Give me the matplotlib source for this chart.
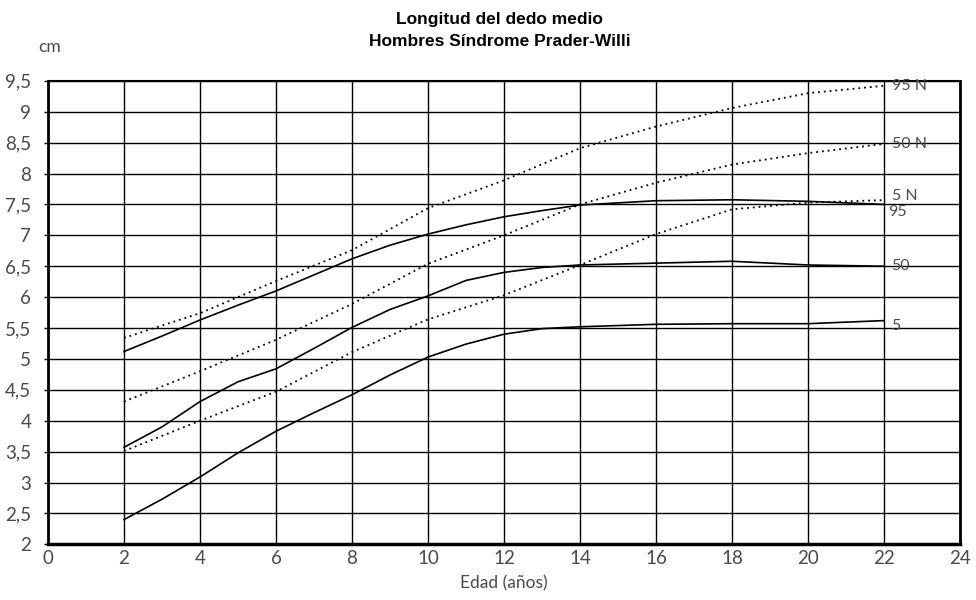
import matplotlib
matplotlib.use("Agg")
import matplotlib.pyplot as plt
from matplotlib.ticker import FuncFormatter

# Edad (años)
edad = [2, 3, 4, 5, 6, 7, 8, 9, 10, 11, 12, 13, 14, 16, 18, 20, 22]

# Síndrome Prader-Willi, percentiles (cm)
pw_95 = [5.12, 5.37, 5.63, 5.87, 6.10, 6.36, 6.62, 6.84, 7.02, 7.17, 7.30, 7.40, 7.49, 7.56, 7.575, 7.55, 7.50]
pw_50 = [3.57, 3.90, 4.31, 4.63, 4.84, 5.17, 5.51, 5.80, 6.02, 6.27, 6.40, 6.48, 6.52, 6.55, 6.58, 6.52, 6.50]
pw_5 = [2.40, 2.73, 3.09, 3.48, 3.83, 4.13, 4.42, 4.74, 5.03, 5.24, 5.40, 5.49, 5.52, 5.56, 5.57, 5.57, 5.62]

# Población normal, percentiles (cm)
edad_n = [2, 4, 6, 8, 10, 12, 14, 16, 18, 20, 22]
n_95 = [5.34, 5.74, 6.26, 6.76, 7.44, 7.89, 8.41, 8.76, 9.06, 9.30, 9.42]
n_50 = [4.31, 4.80, 5.31, 5.89, 6.54, 7.00, 7.50, 7.85, 8.145, 8.33, 8.48]
n_5 = [3.51, 4.00, 4.47, 5.11, 5.64, 6.03, 6.52, 7.02, 7.42, 7.53, 7.57]

x_ticks = list(range(0, 25, 2))
y_ticks = [2 + 0.5 * i for i in range(16)]

txt_color = "#4a4a4a"
fig = plt.figure(figsize=(9.76, 6.0), dpi=100)
ax = fig.add_axes([0.0492, 0.0928, 0.9344, 0.7725])

ax.set_xlim(0, 24)
ax.set_ylim(2, 9.5)
ax.set_xticks(x_ticks)
ax.set_yticks(y_ticks)
ax.grid(True, color="black", linewidth=1.0)
ax.set_axisbelow(True)

for s in ax.spines.values():
    s.set_color("black")
ax.spines["left"].set_linewidth(2.0)
ax.spines["bottom"].set_linewidth(2.5)
ax.spines["right"].set_linewidth(2.0)
ax.spines["top"].set_linewidth(1.5)

fmt = FuncFormatter(lambda v, p: ("%g" % v).replace(".", ","))
ax.yaxis.set_major_formatter(fmt)
ax.tick_params(axis="y", length=3, width=1, color="black", labelsize=13.5,
               labelcolor=txt_color, pad=9)
ax.tick_params(axis="x", length=0, width=1, color="black", labelsize=13.5,
               labelcolor=txt_color, pad=4)
for t in ax.get_xticklabels() + ax.get_yticklabels():
    t.set_fontfamily("Lato")

dotted = (0, (1.0, 2.2))
ax.plot(edad_n, n_95, color="black", lw=1.3, linestyle=dotted)
ax.plot(edad_n, n_50, color="black", lw=1.3, linestyle=dotted)
ax.plot(edad_n, n_5, color="black", lw=1.3, linestyle=dotted)
ax.plot(edad, pw_95, color="black", lw=1.2)
ax.plot(edad, pw_50, color="black", lw=1.2)
ax.plot(edad, pw_5, color="black", lw=1.2)

lab_kw = dict(color=txt_color, fontsize=11.5, family="Lato", va="center", ha="left")
ax.text(22.2, n_95[-1], "95 N", **lab_kw)
ax.text(22.2, n_50[-1], "50 N", **lab_kw)
ax.text(22.2, n_5[-1] + 0.07, "5 N", **lab_kw)
ax.text(22.1, pw_95[-1] - 0.13, "95", **lab_kw)
ax.text(22.2, pw_50[-1], "50", **lab_kw)
ax.text(22.2, pw_5[-1] - 0.08, "5", **lab_kw)

ax.set_xlabel("Edad (años)", fontsize=12.5, color=txt_color, family="Lato",
              labelpad=6)

title_font = ["Liberation Sans", "DejaVu Sans"]
fig.text(0.512, 0.968, "Longitud del dedo medio", ha="center", va="center",
         fontsize=12.5, fontweight="bold", family=title_font)
fig.text(0.512, 0.930, "Hombres Síndrome Prader-Willi", ha="center", va="center",
         fontsize=12.5, fontweight="bold", family=title_font)
fig.text(0.051, 0.921, "cm", ha="center", va="center", fontsize=12.5,
         color=txt_color, family="Lato")

fig.savefig("out.png", dpi=100, facecolor="white")
